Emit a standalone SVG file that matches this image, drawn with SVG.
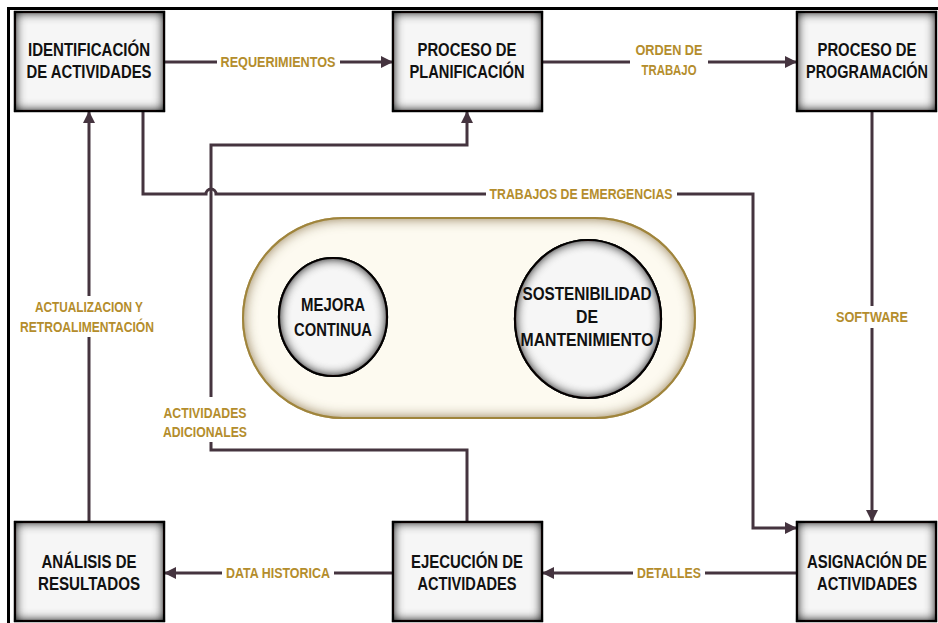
<svg xmlns="http://www.w3.org/2000/svg" width="938" height="623" viewBox="0 0 938 623">
<style>
.node rect{fill:#f6f6f6;stroke:#2e2a2c;stroke-width:2.2;filter:url(#inset)}
.circ ellipse{fill:#f6f6f6;stroke:#2e2a2c;stroke-width:2.2;filter:url(#inset)}
.nt{font-family:"Liberation Sans Narrow","Liberation Sans",Arial,sans-serif;font-weight:bold;font-size:19px;fill:#111;text-anchor:middle}
.lt{font-family:"Liberation Sans Narrow","Liberation Sans",Arial,sans-serif;font-weight:bold;font-size:14.5px;fill:#b48d2c;text-anchor:middle}
.conn path{fill:none;stroke:#45343f;stroke-width:3;stroke-linejoin:miter}
.bg{fill:#ffffff}
</style>
<defs>
<filter id="inset" x="-15%" y="-15%" width="130%" height="130%">
<feFlood flood-color="#000000" result="f"/>
<feComposite in="f" in2="SourceAlpha" operator="out" result="o"/>
<feGaussianBlur in="o" stdDeviation="6" result="b"/>
<feComposite in="b" in2="SourceAlpha" operator="in" result="s"/>
<feMerge><feMergeNode in="SourceGraphic"/><feMergeNode in="s"/><feMergeNode in="s"/><feMergeNode in="s"/></feMerge>
</filter>
<filter id="insetGold" x="-10%" y="-10%" width="120%" height="120%">
<feFlood flood-color="#9c8240" result="f"/>
<feComposite in="f" in2="SourceAlpha" operator="out" result="o"/>
<feGaussianBlur in="o" stdDeviation="7" result="b"/>
<feComposite in="b" in2="SourceAlpha" operator="in" result="s"/>
<feMerge><feMergeNode in="SourceGraphic"/><feMergeNode in="s"/><feMergeNode in="s"/></feMerge>
</filter>
<marker id="arr" viewBox="0 0 10 10" refX="10" refY="5" markerWidth="12" markerHeight="12" markerUnits="userSpaceOnUse" orient="auto">
<path d="M0,0 L10,5 L0,10 Z" fill="#45343f"/>
</marker>
</defs>
<rect width="938" height="623" fill="#ffffff"/>
<path d="M8.5,623 V8.5 H938" fill="none" stroke="#000" stroke-width="3"/>

<g id="centro">
<rect x="243" y="218" width="452" height="200" rx="100" ry="100" fill="#fdfaf0" stroke="#a88b3a" stroke-width="2" filter="url(#insetGold)"/>
</g>
<g id="mejora" class="circ">
<ellipse cx="333" cy="317" rx="54" ry="59"/>
<text class="nt" x="333" y="311" textLength="64" lengthAdjust="spacingAndGlyphs">MEJORA</text>
<text class="nt" x="333" y="336" textLength="78" lengthAdjust="spacingAndGlyphs">CONTINUA</text>
</g>
<g id="sostenibilidad" class="circ">
<ellipse cx="588" cy="319" rx="73" ry="79"/>
<text class="nt" x="587" y="300" textLength="129" lengthAdjust="spacingAndGlyphs">SOSTENIBILIDAD</text>
<text class="nt" x="587" y="323" textLength="22" lengthAdjust="spacingAndGlyphs">DE</text>
<text class="nt" x="587" y="346" textLength="133" lengthAdjust="spacingAndGlyphs">MANTENIMIENTO</text>
</g>

<g id="connectors" class="conn">
<path d="M163,62 H393" marker-end="url(#arr)"/>
<path d="M542,62 H797" marker-end="url(#arr)"/>
<path d="M872,111 V522" marker-end="url(#arr)"/>
<path d="M143,111 V194 H206 A5,5 0 0 1 216,194 H753 V528 H797" marker-end="url(#arr)"/>
<path d="M467,522 V450 H211 V145 H467 V111" marker-end="url(#arr)"/>
<path d="M797,573 H542" marker-end="url(#arr)"/>
<path d="M393,573 H164" marker-end="url(#arr)"/>
<path d="M89,522 V111" marker-end="url(#arr)"/>
</g>

<g id="labels">
<rect class="bg" x="217" y="54" width="123" height="17"/>
<text class="lt" x="278" y="67" textLength="115" lengthAdjust="spacingAndGlyphs">REQUERIMIENTOS</text>
<rect class="bg" x="630" y="40" width="78" height="40"/>
<text class="lt" x="669" y="55" textLength="67" lengthAdjust="spacingAndGlyphs">ORDEN DE</text>
<text class="lt" x="669" y="75" textLength="55" lengthAdjust="spacingAndGlyphs">TRABAJO</text>
<rect class="bg" x="486" y="186" width="191" height="17"/>
<text class="lt" x="581" y="199" textLength="183" lengthAdjust="spacingAndGlyphs">TRABAJOS DE EMERGENCIAS</text>
<rect class="bg" x="834" y="306" width="76" height="22"/>
<text class="lt" x="872" y="322" textLength="72" lengthAdjust="spacingAndGlyphs">SOFTWARE</text>
<rect class="bg" x="16" y="296" width="144" height="41"/>
<text class="lt" x="89" y="312" textLength="108" lengthAdjust="spacingAndGlyphs">ACTUALIZACION Y</text>
<text class="lt" x="87" y="332" textLength="134" lengthAdjust="spacingAndGlyphs">RETROALIMENTACIÓN</text>
<rect class="bg" x="158" y="397" width="94" height="45"/>
<text class="lt" x="205" y="418" textLength="83" lengthAdjust="spacingAndGlyphs">ACTIVIDADES</text>
<text class="lt" x="205" y="437" textLength="84" lengthAdjust="spacingAndGlyphs">ADICIONALES</text>
<rect class="bg" x="633" y="564" width="72" height="18"/>
<text class="lt" x="669" y="578" textLength="64" lengthAdjust="spacingAndGlyphs">DETALLES</text>
<rect class="bg" x="222" y="564" width="112" height="18"/>
<text class="lt" x="278" y="578" textLength="104" lengthAdjust="spacingAndGlyphs">DATA HISTORICA</text>
</g>

<g id="identificacion" class="node">
<rect x="15" y="12" width="149" height="99"/>
<text class="nt" x="89" y="56" textLength="122" lengthAdjust="spacingAndGlyphs">IDENTIFICACIÓN</text>
<text class="nt" x="89" y="78" textLength="125" lengthAdjust="spacingAndGlyphs">DE ACTIVIDADES</text>
</g>
<g id="planificacion" class="node">
<rect x="393" y="12" width="149" height="99"/>
<text class="nt" x="467" y="56" textLength="99" lengthAdjust="spacingAndGlyphs">PROCESO DE</text>
<text class="nt" x="467" y="78" textLength="115" lengthAdjust="spacingAndGlyphs">PLANIFICACIÓN</text>
</g>
<g id="programacion" class="node">
<rect x="797" y="12" width="139" height="99"/>
<text class="nt" x="867" y="56" textLength="99" lengthAdjust="spacingAndGlyphs">PROCESO DE</text>
<text class="nt" x="867" y="78" textLength="122" lengthAdjust="spacingAndGlyphs">PROGRAMACIÓN</text>
</g>
<g id="analisis" class="node">
<rect x="15" y="522" width="149" height="99"/>
<text class="nt" x="89" y="568" textLength="95" lengthAdjust="spacingAndGlyphs">ANÁLISIS DE</text>
<text class="nt" x="89" y="590" textLength="102" lengthAdjust="spacingAndGlyphs">RESULTADOS</text>
</g>
<g id="ejecucion" class="node">
<rect x="393" y="522" width="149" height="99"/>
<text class="nt" x="467" y="568" textLength="112" lengthAdjust="spacingAndGlyphs">EJECUCIÓN DE</text>
<text class="nt" x="467" y="590" textLength="99" lengthAdjust="spacingAndGlyphs">ACTIVIDADES</text>
</g>
<g id="asignacion" class="node">
<rect x="797" y="522" width="139" height="99"/>
<text class="nt" x="867" y="568" textLength="120" lengthAdjust="spacingAndGlyphs">ASIGNACIÓN DE</text>
<text class="nt" x="867" y="590" textLength="100" lengthAdjust="spacingAndGlyphs">ACTIVIDADES</text>
</g>
</svg>
